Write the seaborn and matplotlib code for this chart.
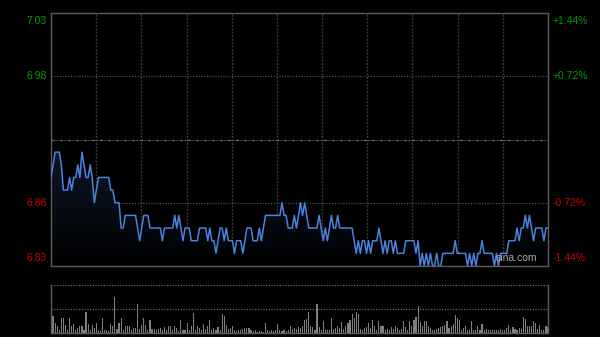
import numpy as np
import pandas as pd
import matplotlib
matplotlib.use("Agg")
import matplotlib.pyplot as plt
import matplotlib.transforms as mtransforms
from matplotlib.colors import LinearSegmentedColormap
import seaborn as sns

# ---------------- data ----------------
prices = [
    6.90, 6.91, 6.92, 6.92, 6.92, 6.91, 6.89, 6.89, 6.89, 6.90,
    6.89, 6.90, 6.90, 6.91, 6.90, 6.92, 6.91, 6.90, 6.90, 6.91,
    6.90, 6.88, 6.89, 6.90, 6.90, 6.90, 6.90, 6.90, 6.90, 6.89,
    6.89, 6.88, 6.88, 6.88, 6.86, 6.86, 6.87, 6.87, 6.87, 6.87,
    6.87, 6.87, 6.86, 6.85, 6.86, 6.87, 6.87, 6.87, 6.86, 6.86,
    6.86, 6.86, 6.86, 6.86, 6.85, 6.86, 6.86, 6.86, 6.86, 6.86,
    6.87, 6.86, 6.87, 6.86, 6.85, 6.86, 6.86, 6.86, 6.85, 6.85,
    6.85, 6.85, 6.86, 6.86, 6.86, 6.86, 6.85, 6.86, 6.85, 6.85,
    6.84, 6.85, 6.86, 6.86, 6.85, 6.86, 6.85, 6.85, 6.85, 6.84,
    6.85, 6.85, 6.85, 6.84, 6.85, 6.86, 6.86, 6.86, 6.85, 6.85,
    6.85, 6.86, 6.85, 6.86, 6.87, 6.87, 6.87, 6.87, 6.87, 6.87,
    6.87, 6.87, 6.88, 6.87, 6.87, 6.86, 6.86, 6.86, 6.87, 6.86,
    6.87, 6.88, 6.87, 6.88, 6.87, 6.86, 6.86, 6.86, 6.86, 6.86,
    6.87, 6.86, 6.85, 6.86, 6.85, 6.86, 6.87, 6.86, 6.86, 6.87,
    6.86, 6.86, 6.86, 6.86, 6.86, 6.86, 6.86, 6.85, 6.84, 6.85,
    6.84, 6.85, 6.85, 6.84, 6.85, 6.84, 6.85, 6.85, 6.85, 6.86,
    6.85, 6.84, 6.85, 6.84, 6.85, 6.85, 6.84, 6.85, 6.84, 6.84,
    6.84, 6.84, 6.85, 6.85, 6.85, 6.85, 6.85, 6.84, 6.85, 6.83,
    6.84, 6.83, 6.84, 6.83, 6.84, 6.83, 6.83, 6.84, 6.83, 6.83,
    6.84, 6.84, 6.84, 6.84, 6.84, 6.84, 6.85, 6.84, 6.84, 6.84,
    6.84, 6.84, 6.83, 6.84, 6.83, 6.84, 6.83, 6.84, 6.84, 6.85,
    6.84, 6.84, 6.84, 6.84, 6.84, 6.83, 6.84, 6.83, 6.84, 6.84,
    6.84, 6.84, 6.85, 6.85, 6.85, 6.85, 6.86, 6.85, 6.86, 6.86,
    6.87, 6.86, 6.87, 6.86, 6.85, 6.86, 6.86, 6.86, 6.86, 6.85,
    6.86, 6.86,
]

volumes = [
    42, 50, 30, 20, 8, 45, 45, 25, 10, 45,
    22, 28, 8, 15, 22, 20, 10, 63, 28, 8,
    24, 15, 30, 10, 6, 45, 10, 8, 5, 28,
    20, 106, 12, 30, 45, 10, 20, 22, 20, 10,
    15, 15, 87, 12, 25, 45, 25, 8, 38, 12,
    12, 8, 12, 14, 10, 18, 8, 22, 20, 10,
    22, 15, 6, 40, 10, 8, 30, 10, 22, 61,
    8, 20, 15, 8, 28, 12, 20, 40, 8, 15,
    10, 18, 8, 56, 52, 25, 12, 15, 22, 10,
    6, 10, 8, 12, 15, 16, 15, 10, 6, 10,
    4, 5, 5, 4, 30, 10, 6, 8, 5, 10,
    27, 8, 5, 8, 5, 8, 22, 12, 15, 12,
    18, 15, 20, 38, 42, 62, 20, 18, 10, 87,
    18, 10, 35, 10, 8, 8, 45, 12, 15, 20,
    15, 32, 12, 22, 30, 40, 57, 45, 63, 58,
    12, 10, 14, 17, 30, 15, 40, 20, 10, 35,
    22, 20, 8, 12, 10, 18, 12, 20, 15, 10,
    12, 35, 18, 10, 35, 20, 38, 47, 80, 32,
    20, 37, 35, 22, 14, 10, 10, 12, 15, 18,
    22, 25, 35, 15, 20, 28, 53, 45, 38, 8,
    15, 22, 8, 10, 35, 10, 8, 20, 10, 28,
    8, 12, 10, 10, 8, 8, 10, 10, 12, 8,
    10, 15, 25, 10, 18, 12, 10, 15, 12, 48,
    43, 20, 20, 22, 35, 30, 12, 25, 8, 10,
    20, 18,
]

prev_close = 6.93
left_ticks = [7.03, 6.98, 6.88, 6.83]
left_labels = ["7.03", "6.98", "6.88", "6.83"]
right_labels = ["+1.44%", "+0.72%", "-0.72%", "-1.44%"]
label_colors = ["#009a00", "#009a00", "#c80000", "#c80000"]
watermark = "sina.com"

minutes = list(range(len(prices)))
df = pd.DataFrame({"minute": minutes, "price": prices, "volume": volumes})

# ---------------- figure ----------------
sns.set_theme(style="dark")
plt.rcParams["font.family"] = ["Liberation Sans", "DejaVu Sans"]

fig = plt.figure(figsize=(6.0, 3.37), dpi=100, facecolor="black")
ax = fig.add_axes([51/600, 1-266/337, 497/600, 253/337])
axv = fig.add_axes([51/600, 1-333/337, 497/600, 48/337])

n_last = len(prices) - 1
ymin, ymax = 6.83, 7.03

# price panel
ax.set_facecolor("black")
poly = ax.fill_between(df["minute"], df["price"], ymin, color="none", lw=0)
cmap = LinearSegmentedColormap.from_list("g", ["#000000", "#070c15", "#0d1624"])
grad = np.linspace(1, 0, 256).reshape(-1, 1)
im = ax.imshow(grad, extent=[0, n_last, ymin, max(prices)], aspect="auto",
               cmap=cmap, zorder=1)
im.set_clip_path(poly.get_paths()[0], transform=ax.transData)

sns.lineplot(data=df, x="minute", y="price", ax=ax, color="#4b82dc",
             linewidth=1.1, zorder=3)

ax.set_xlim(0, n_last)
ax.set_ylim(ymin, ymax)
ax.set_xlabel("")
ax.set_ylabel("")
ax.set_xticks([])
ax.set_yticks([])
ax.grid(False)

for xv in np.linspace(0, n_last, 12)[1:-1]:
    ax.axvline(xv, color="#3a3a3a", lw=1.0, ls=(0, (1.5, 1)), zorder=0.5)
for yv in [6.98, 6.88]:
    ax.axhline(yv, color="#5a5a5a", lw=0.8, ls=(0, (1, 1.5)), zorder=0.5)
ax.axhline(prev_close, color="#6a6a6a", lw=0.9, ls=(0, (3, 1.2, 1, 1.2)), zorder=0.5)

for sp in ax.spines.values():
    sp.set_color("#5c5c5c")
    sp.set_linewidth(1.0)
    sp.set_visible(True)

trans = mtransforms.blended_transform_factory(ax.transAxes, ax.transData)
vas = ["top", "center", "center", "bottom"]
offs = [-0.002, 0, 0, 0.002]
for v, lab, rlab, c, va, o in zip(left_ticks, left_labels, right_labels, label_colors, vas, offs):
    ax.text(-0.008, v + o, lab, transform=trans, ha="right", va=va,
            color=c, fontsize=7.5)
    ax.text(1.01, v + o, rlab, transform=trans, ha="left", va=va,
            color=c, fontsize=7.5)

ax.text(0.978, 0.012, watermark, transform=ax.transAxes, ha="right", va="bottom",
        color="#a8a8a8", fontsize=7.5, zorder=5)

# volume panel
axv.set_facecolor("black")
sns.barplot(data=df, x="minute", y="volume", ax=axv, native_scale=True,
            color="#808080", width=0.55, saturation=1, linewidth=0, zorder=2)
axv.set_xlim(0, n_last)
vtop = 143
axv.set_ylim(0, vtop)
axv.set_xlabel("")
axv.set_ylabel("")
axv.set_xticks([])
axv.set_yticks([])
axv.grid(False)
axv.axhline(vtop * 0.995, color="#6a6a6a", lw=0.9, ls=(0, (1, 1.2)), zorder=1)
axv.axhline(vtop * 0.51, color="#6a6a6a", lw=0.9, ls=(0, (1, 1.2)), zorder=1)
for name, sp in axv.spines.items():
    sp.set_color("#5c5c5c")
    sp.set_linewidth(1.0)
    sp.set_visible(name != "top")

fig.savefig("out.png", dpi=100, facecolor="black")
